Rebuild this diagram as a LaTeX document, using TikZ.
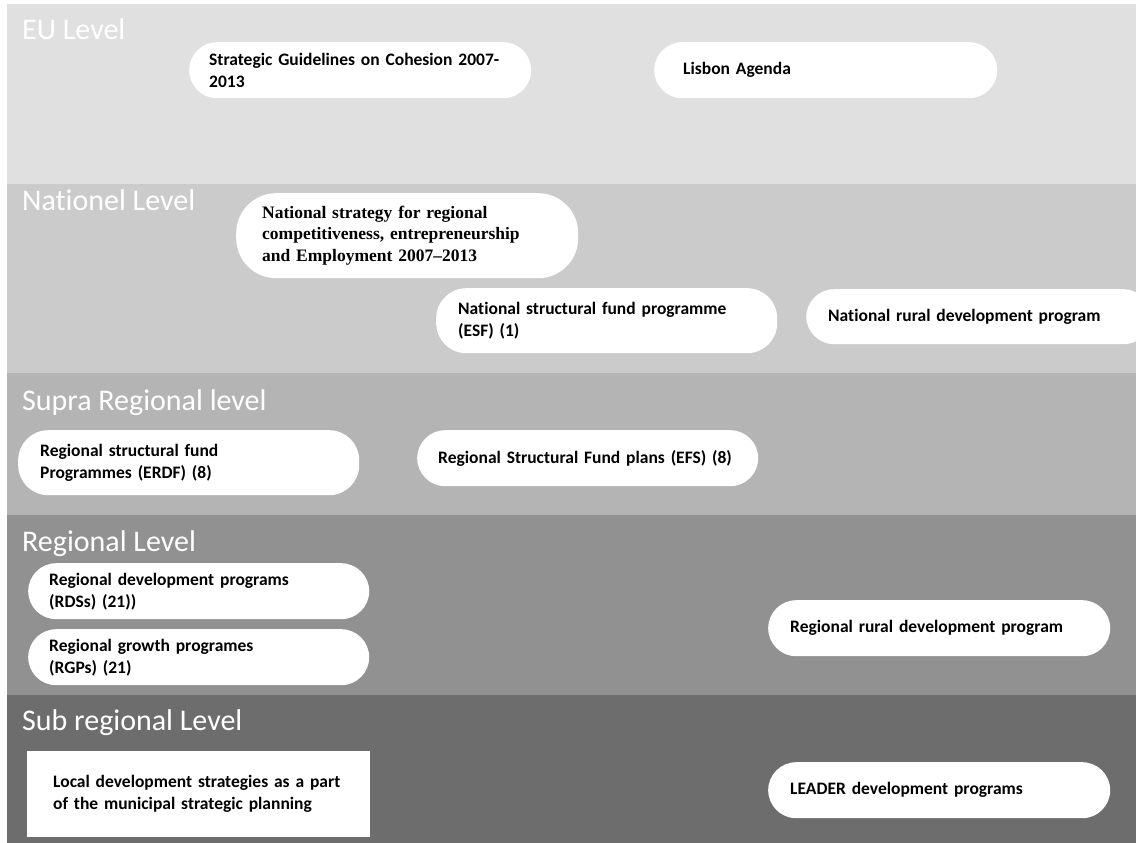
\documentclass[tikz,border=0pt]{standalone}
\usepackage{fontspec}
\setmainfont{Carlito}[Ligatures={NoCommon}]
\newfontfamily\timesfont{Liberation Serif}
\definecolor{euC}{HTML}{E0E0E0}
\definecolor{natC}{HTML}{CBCBCB}
\definecolor{supC}{HTML}{B4B4B4}
\definecolor{regC}{HTML}{919191}
\definecolor{subC}{HTML}{6D6D6D}
\begin{document}
\begin{tikzpicture}[x=1pt,y=-1pt,
  lvl/.style={anchor=base west, text=white, font=\fontsize{30}{34}\selectfont, inner sep=0pt},
  pill/.style={fill=white, draw=none, rounded corners=#1, anchor=north west, align=left,
    inner ysep=0pt, font=\fontsize{17.5}{22}\selectfont\bfseries},
  pill/.default=28pt,
]
\useasboundingbox (0,0) rectangle (1136,843);
\fill[white] (0,0) rectangle (1136,843);
\clip (0,0) rectangle (1136,843);
% bands
\fill[euC]  (7,4)   rectangle (1136,184);
\fill[natC] (7,184) rectangle (1136,373);
\fill[supC] (7,373) rectangle (1136,515);
\fill[regC] (7,515) rectangle (1136,695);
\fill[subC] (7,695) rectangle (1136,843);
% level labels
\node[lvl] (leu)  at (22,40)  {EU Level};
\node[lvl] (lnat) at (22,210) {Nationel Level};
\node[lvl] (lsup) at (22,410) {Supra Regional level};
\node[lvl] (lreg) at (22,551) {Regional Level};
\node[lvl] (lsub) at (22,730) {Sub regional Level};
% boxes
\node[pill, inner xsep=20pt, text width=302pt, minimum height=56pt] (sg) at (189,42)
  {Strategic Guidelines on Cohesion 2007-\\2013};
\node[pill, inner xsep=29pt, text width=285pt, minimum height=56pt] (lis) at (654,42)
  {Lisbon Agenda};
\node[pill=40pt, inner xsep=26pt, text width=290pt, minimum height=85pt,
  font=\timesfont\fontsize{17.5}{21.5}\selectfont\bfseries] (ns) at (236,193)
  {National strategy for regional\\competitiveness, entrepreneurship\\and Employment 2007–2013};
\node[pill=30pt, inner xsep=22pt, text width=297pt, minimum height=65pt] (esf) at (436,288)
  {National structural fund programme\\(ESF) (1)};
\node[pill, inner xsep=22pt, text width=301pt, minimum height=55pt] (nrd) at (806,289)
  {National rural development program};
\node[pill=30pt, inner xsep=22pt, text width=297pt, minimum height=65pt] (rsf) at (18,430)
  {Regional structural fund\\Programmes (ERDF) (8)};
\node[pill, inner xsep=21pt, text width=299pt, minimum height=56pt] (rsfp) at (417,430)
  {Regional Structural Fund plans (EFS) (8)};
\node[pill, inner xsep=21pt, text width=299pt, minimum height=56pt] (rds) at (28,563)
  {Regional development programs\\(RDSs) (21))};
\node[pill, inner xsep=21pt, text width=299pt, minimum height=56pt] (rgp) at (28,629)
  {Regional growth programes\\(RGPs) (21)};
\node[pill, inner xsep=22pt, text width=298pt, minimum height=56pt] (rrd) at (768,600)
  {Regional rural development program};
\node[pill=0pt, inner xsep=26pt, text width=291pt, minimum height=86pt] (lds) at (27,751)
  {Local development strategies as a part\\of the municipal strategic planning};
\node[pill, inner xsep=22pt, text width=298pt, minimum height=56pt] (lead) at (768,762)
  {LEADER development programs};
\end{tikzpicture}
\end{document}
